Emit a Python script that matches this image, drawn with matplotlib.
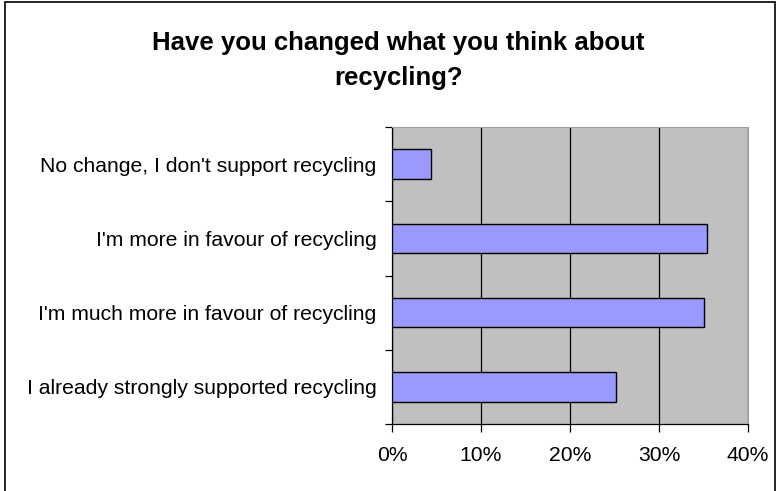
"""Horizontal bar chart: change in attitude to recycling."""
import matplotlib.pyplot as plt
from matplotlib.patches import Rectangle
import numpy as np

plt.rcParams["font.family"] = ["Liberation Sans", "DejaVu Sans"]

# Data (bottom to top as drawn)
categories = [
    "I already strongly supported recycling",
    "I'm much more in favour of recycling",
    "I'm more in favour of recycling",
    "No change, I don't support recycling",
]
percent = [25.2, 35.1, 35.4, 4.4]
x_ticks = [0, 10, 20, 30, 40]


def main():
    fig = plt.figure(figsize=(7.77, 4.91), dpi=100)
    ax = fig.add_axes([392 / 777, 1 - 424 / 491, 356 / 777, 297 / 491])

    # Outer chart border
    fig.patches.append(
        Rectangle((5 / 777, -0.05), 770 / 777, 1.05 - 2 / 491,
                  transform=fig.transFigure, fill=False,
                  edgecolor="black", linewidth=1.2)
    )

    y = np.arange(len(categories))
    ax.set_facecolor("#C0C0C0")
    ax.barh(y, percent, height=0.4, color="#9999FF", edgecolor="black",
            linewidth=1, zorder=3)

    ax.set_xlim(0, 40)
    ax.set_ylim(-0.5, len(categories) - 0.5)
    ax.set_xticks(x_ticks)
    ax.set_xticklabels([f"{t}%" for t in x_ticks], fontsize=15.2)
    ax.xaxis.grid(True, color="black", linewidth=0.9, zorder=1)
    ax.set_axisbelow(True)

    ax.set_yticks(y)
    ax.set_yticklabels(categories, fontsize=15.2)
    ax.set_yticks(np.arange(-0.5, len(categories)), minor=True)
    ax.tick_params(axis="y", which="major", length=0, pad=11)
    ax.tick_params(axis="y", which="minor", length=5, direction="out",
                   width=0.9)
    ax.tick_params(axis="x", length=5.5, width=0.9, pad=10)

    for side in ["top", "right"]:
        ax.spines[side].set_color("#A0A0A0")
        ax.spines[side].set_linewidth(0.8)
    for side in ["left", "bottom"]:
        ax.spines[side].set_color("black")
        ax.spines[side].set_linewidth(0.9)

    fig.text(0.513, 1 - 50 / 491, "Have you changed what you think about",
             ha="center", va="baseline", fontsize=18.5, fontweight="bold")
    fig.text(0.513, 1 - 85 / 491, "recycling?",
             ha="center", va="baseline", fontsize=18.5, fontweight="bold")

    fig.savefig("out.png", dpi=100)


if __name__ == "__main__":
    main()
